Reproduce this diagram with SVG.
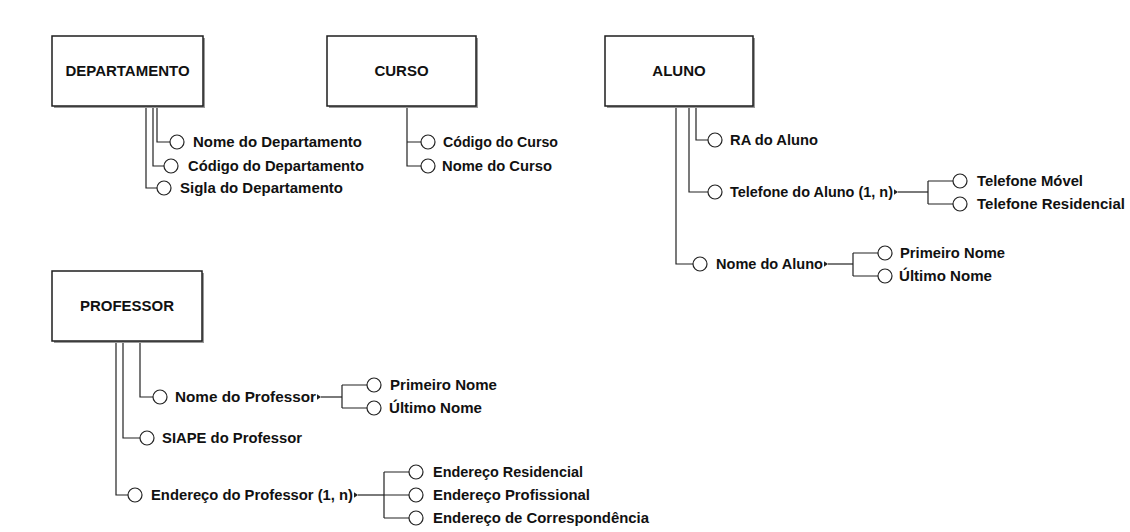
<svg xmlns="http://www.w3.org/2000/svg" width="1130" height="532" viewBox="0 0 1130 532">
<style>
.shadow{fill:#9a9a9a;stroke:none}
.box{fill:#fff;stroke:#1e1e1e;stroke-width:1.5}
.title{font-family:"Liberation Sans",Arial,sans-serif;font-weight:bold;font-size:15px;fill:#111;text-anchor:middle}
.lbl{font-family:"Liberation Sans",Arial,sans-serif;font-weight:bold;font-size:14.8px;fill:#111}
.att{fill:#fff;stroke:#222;stroke-width:1.2}
.ln{fill:none;stroke:#222;stroke-width:1.2}
.tri{fill:#222;stroke:none}
</style>
<rect width="1130" height="532" fill="#fff"/>

<g id="connectors">
<!-- DEPARTAMENTO -->
<path class="ln" d="M157,106 V142 H170"/>
<path class="ln" d="M153,106 V166 H164"/>
<path class="ln" d="M146,106 V188 H157"/>
<!-- CURSO -->
<path class="ln" d="M407,106 V166 H421 M407,142 H421"/>
<!-- ALUNO -->
<path class="ln" d="M696,106 V140 H708"/>
<path class="ln" d="M689,106 V192 H708"/>
<path class="ln" d="M676,106 V264 H693"/>
<polygon class="tri" points="894,189.3 898,192 894,194.7"/>
<path class="ln" d="M898,192 H928"/>
<path class="ln" d="M928,181 V204 M928,181 H953 M928,204 H953"/>
<polygon class="tri" points="824,261.3 828,264 824,266.7"/>
<path class="ln" d="M828,264 H853"/>
<path class="ln" d="M853,253 V276 M853,253 H878 M853,276 H878"/>
<!-- PROFESSOR -->
<path class="ln" d="M140,341 V397 H153"/>
<path class="ln" d="M123,341 V438 H140"/>
<path class="ln" d="M116,341 V495 H128"/>
<polygon class="tri" points="317,394.3 321,397 317,399.7"/>
<path class="ln" d="M321,397 H342"/>
<path class="ln" d="M342,385 V408 M342,385 H367 M342,408 H367"/>
<polygon class="tri" points="354,492.3 358,495 354,497.7"/>
<path class="ln" d="M358,495 H384"/>
<path class="ln" d="M384,472 V518 M384,472 H409 M384,495 H409 M384,518 H409"/>
</g>

<g id="departamento">
<rect class="shadow" x="54" y="38" width="151" height="70"/>
<rect class="box" x="52" y="36" width="151" height="70"/>
<text class="title" x="127.5" y="76">DEPARTAMENTO</text>
</g>
<g id="departamento-attrs">
<circle class="att" cx="177" cy="142" r="7"/><text class="lbl" x="193" y="147" textLength="169" lengthAdjust="spacingAndGlyphs">Nome do Departamento</text>
<circle class="att" cx="171" cy="166" r="7"/><text class="lbl" x="188" y="171" textLength="176" lengthAdjust="spacingAndGlyphs">Código do Departamento</text>
<circle class="att" cx="164" cy="188" r="7"/><text class="lbl" x="180" y="193" textLength="163" lengthAdjust="spacingAndGlyphs">Sigla do Departamento</text>
</g>

<g id="curso">
<rect class="shadow" x="329" y="38" width="149" height="70"/>
<rect class="box" x="327" y="36" width="149" height="70"/>
<text class="title" x="401.5" y="76">CURSO</text>
</g>
<g id="curso-attrs">
<circle class="att" cx="428" cy="142" r="7"/><text class="lbl" x="443" y="147" textLength="115" lengthAdjust="spacingAndGlyphs">Código do Curso</text>
<circle class="att" cx="428" cy="166" r="7"/><text class="lbl" x="442" y="171" textLength="110" lengthAdjust="spacingAndGlyphs">Nome do Curso</text>
</g>

<g id="aluno">
<rect class="shadow" x="607" y="38" width="148" height="70"/>
<rect class="box" x="605" y="36" width="148" height="70"/>
<text class="title" x="679" y="76">ALUNO</text>
</g>
<g id="aluno-attrs">
<circle class="att" cx="715" cy="140" r="7"/><text class="lbl" x="730" y="145" textLength="88" lengthAdjust="spacingAndGlyphs">RA do Aluno</text>
<circle class="att" cx="715" cy="192" r="7"/><text class="lbl" x="730" y="197" textLength="163" lengthAdjust="spacingAndGlyphs">Telefone do Aluno (1, n)</text>
<circle class="att" cx="960" cy="181" r="7"/><text class="lbl" x="977" y="186" textLength="106" lengthAdjust="spacingAndGlyphs">Telefone Móvel</text>
<circle class="att" cx="960" cy="204" r="7"/><text class="lbl" x="977" y="209" textLength="148" lengthAdjust="spacingAndGlyphs">Telefone Residencial</text>
<circle class="att" cx="700" cy="264" r="7"/><text class="lbl" x="716" y="269" textLength="107" lengthAdjust="spacingAndGlyphs">Nome do Aluno</text>
<circle class="att" cx="885" cy="253" r="7"/><text class="lbl" x="900" y="258" textLength="105" lengthAdjust="spacingAndGlyphs">Primeiro Nome</text>
<circle class="att" cx="885" cy="276" r="7"/><text class="lbl" x="899" y="281" textLength="93" lengthAdjust="spacingAndGlyphs">Último Nome</text>
</g>

<g id="professor">
<rect class="shadow" x="54" y="273" width="150" height="70"/>
<rect class="box" x="52" y="271" width="150" height="70"/>
<text class="title" x="127" y="311">PROFESSOR</text>
</g>
<g id="professor-attrs">
<circle class="att" cx="160" cy="397" r="7"/><text class="lbl" x="175" y="402" textLength="141" lengthAdjust="spacingAndGlyphs">Nome do Professor</text>
<circle class="att" cx="374" cy="385" r="7"/><text class="lbl" x="390" y="390" textLength="107" lengthAdjust="spacingAndGlyphs">Primeiro Nome</text>
<circle class="att" cx="374" cy="408" r="7"/><text class="lbl" x="389" y="413" textLength="93" lengthAdjust="spacingAndGlyphs">Último Nome</text>
<circle class="att" cx="147" cy="438" r="7"/><text class="lbl" x="162" y="443" textLength="140" lengthAdjust="spacingAndGlyphs">SIAPE do Professor</text>
<circle class="att" cx="135" cy="495" r="7"/><text class="lbl" x="151" y="500" textLength="202" lengthAdjust="spacingAndGlyphs">Endereço do Professor (1, n)</text>
<circle class="att" cx="416" cy="472" r="7"/><text class="lbl" x="433" y="477" textLength="150" lengthAdjust="spacingAndGlyphs">Endereço Residencial</text>
<circle class="att" cx="416" cy="495" r="7"/><text class="lbl" x="433" y="500" textLength="157" lengthAdjust="spacingAndGlyphs">Endereço Profissional</text>
<circle class="att" cx="416" cy="518" r="7"/><text class="lbl" x="433" y="523" textLength="216" lengthAdjust="spacingAndGlyphs">Endereço de Correspondência</text>
</g>
</svg>
